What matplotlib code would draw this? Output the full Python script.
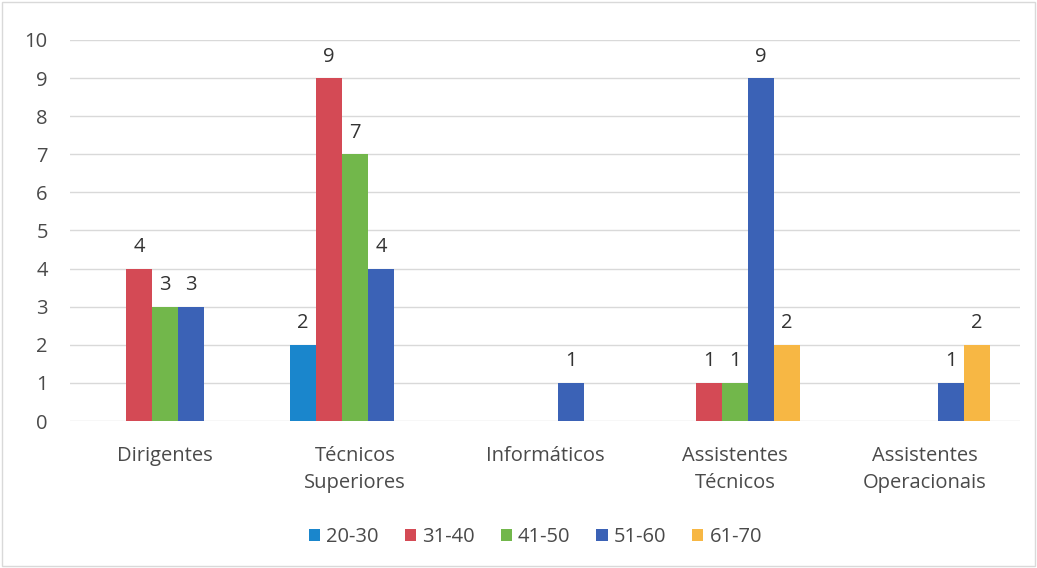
import numpy as np
import matplotlib.pyplot as plt
from matplotlib.patches import Rectangle

categorias = ["Dirigentes", "Técnicos\nSuperiores", "Informáticos",
              "Assistentes\nTécnicos", "Assistentes\nOperacionais"]
faixas = ["20-30", "31-40", "41-50", "51-60", "61-70"]
v_20_30 = [0, 2, 0, 0, 0]
v_31_40 = [4, 9, 0, 1, 0]
v_41_50 = [3, 7, 0, 1, 0]
v_51_60 = [3, 4, 1, 9, 1]
v_61_70 = [0, 0, 0, 2, 2]
cores = ["#1a86cc", "#d44a55", "#72b74b", "#3b62b6", "#f7b744"]

series = [v_20_30, v_31_40, v_41_50, v_51_60, v_61_70]

plt.rcParams['font.family'] = ['Open Sans', 'DejaVu Sans']
fig = plt.figure(figsize=(10.37, 5.68), dpi=100)
ax = fig.add_axes([0.0675, 0.2588, 0.916, 0.6708])

txt = '#4a4a4a'
fs = 14.5
x = np.arange(len(categorias))
w = 0.137
for i, (vals, cor, nome) in enumerate(zip(series, cores, faixas)):
    pos = x + (i - 2) * w
    ax.bar(pos, vals, width=w, color=cor, label=nome, linewidth=0, zorder=3)
    for p, v in zip(pos, vals):
        if v > 0:
            ax.text(p, v + 0.3, str(v), ha='center', va='bottom',
                    fontsize=fs, color='#333333')

ax.set_xlim(-0.5, len(categorias) - 0.5)
ax.set_ylim(0, 10)
ax.set_yticks(range(0, 11))
ax.set_xticks(x)
ax.set_xticklabels(categorias, fontsize=fs, color=txt, linespacing=1.45)
ax.tick_params(axis='y', labelsize=fs, labelcolor=txt, length=0, pad=16)
ax.tick_params(axis='x', length=0, pad=18)
ax.grid(axis='y', color='#d9d9d9', linewidth=1, zorder=0)
for s in ax.spines.values():
    s.set_visible(False)

leg = ax.legend(loc='center', bbox_to_anchor=(0.49, -0.305), ncol=5,
                frameon=False, fontsize=fs, handlelength=0.55, handleheight=0.55,
                handletextpad=0.3, columnspacing=1.3, labelcolor=txt)

fig.patches.append(Rectangle((0.002, 0.003), 0.996, 0.994, transform=fig.transFigure,
                             fill=False, edgecolor='#d9d9d9', linewidth=1))

fig.savefig("out.png", dpi=100)
